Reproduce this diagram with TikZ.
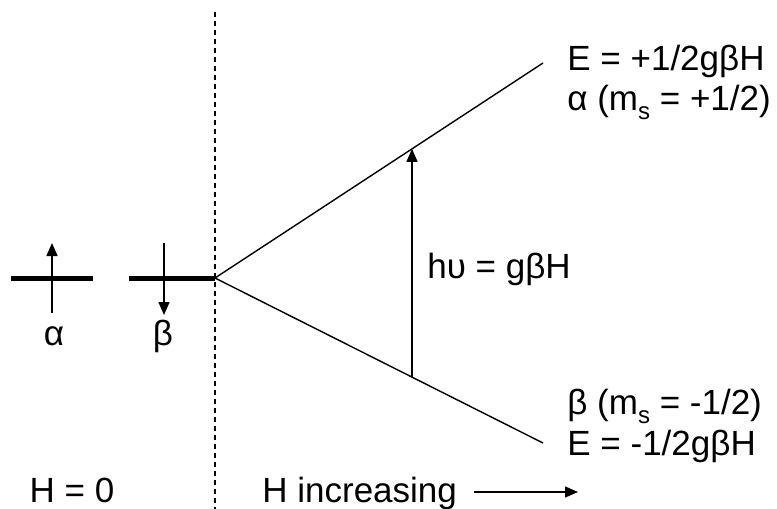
\documentclass[tikz,border=0pt]{standalone}
\usepackage{fontspec}
\setmainfont{Liberation Sans}
\usetikzlibrary{arrows.meta,positioning}
\tikzstyle{lbl}=[inner sep=0pt,font=\fontsize{17.5}{20}\selectfont]
\tikzstyle{lvl}=[line width=2.5pt]
\tikzstyle{ln}=[line width=0.7pt]
\tikzstyle{arr}=[-{Triangle[length=6.5pt,width=5.5pt]},line width=0.7pt]
\tikzstyle{sep}=[line width=0.7pt,dash pattern=on 2.5pt off 2pt]
\newcommand{\msub}{m\raisebox{-4.5pt}{\fontsize{12}{13}\selectfont s}}

\begin{document}
\begin{tikzpicture}[x=0.5pt,y=-0.5pt]
\useasboundingbox (0,0) rectangle (777,509);
% field off / field on
\coordinate (top) at (215,12);
\coordinate (bot) at (215,509);
\draw[sep] (top) -- (bot);
\coordinate (sp) at (215,278);
\coordinate (upE) at (543,63);
\coordinate (loE) at (543,443);
% degenerate levels at H = 0
\coordinate (aL) at (11,278);
\coordinate (aR) at (93,278);
\coordinate (bL) at (129,278);
\draw[lvl] (aL) -- (aR);
\draw[lvl] (bL) -- (sp);
\coordinate (aS) at (52,313);
\coordinate (aT) at (52,243);
\coordinate (bS) at (164,243);
\coordinate (bT) at (164,315);
\draw[arr] (aS) -- (aT);
\draw[arr] (bS) -- (bT);
\node[lbl,anchor=base] (alab) at (54,345) {α};
\node[lbl,anchor=base] (blab) at (163,345) {β};
% Zeeman splitting
\draw[ln] (sp) -- coordinate[pos=0.6006] (upX) (upE);
\draw[ln] (sp) -- coordinate[pos=0.6006] (loX) (loE);
\draw[arr] (loX) -- (upX);
\node[lbl,anchor=base west] (hv) at (427,278) {hυ = gβH};
\node[lbl,anchor=base west] (Eup) at (567,70) {E = +1/2gβH};
\node[lbl,anchor=base west] (aup) at (567,110) {α (\msub{} = +1/2)};
\node[lbl,anchor=base west] (blo) at (567,414) {β (\msub{} = -1/2)};
\node[lbl,anchor=base west] (Elo) at (567,455) {E = -1/2gβH};
% bottom labels
\node[lbl,anchor=base] (H0) at (72,502) {H = 0};
\node[lbl,anchor=base west] (Hinc) at (262,502) {H increasing};
\coordinate (incS) at (474,492);
\coordinate (incE) at (578,492);
\draw[arr] (incS) -- (incE);
\end{tikzpicture}
\end{document}
